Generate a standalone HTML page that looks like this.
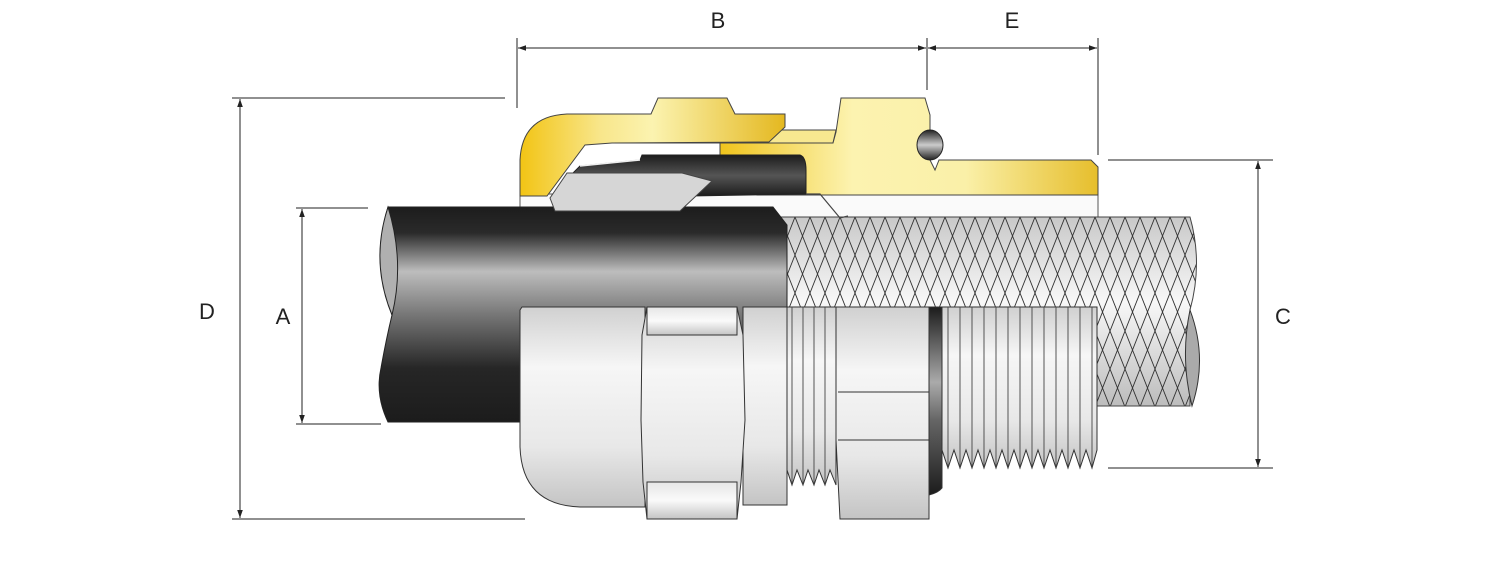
<!DOCTYPE html>
<html><head><meta charset="utf-8"><style>
html,body{margin:0;padding:0;background:#fff;}
svg{display:block;font-family:"Liberation Sans",sans-serif;}
</style></head><body>
<svg width="1500" height="580" viewBox="0 0 1500 580" xmlns="http://www.w3.org/2000/svg">
<defs>
<linearGradient id="cab" x1="0" y1="0" x2="0" y2="1">
<stop offset="0" stop-color="#1c1c1c"/><stop offset="0.12" stop-color="#2a2a2a"/><stop offset="0.3" stop-color="#bdbdbd"/><stop offset="0.5" stop-color="#777"/><stop offset="0.75" stop-color="#262626"/><stop offset="1" stop-color="#1c1c1c"/>
</linearGradient>
<linearGradient id="blk" x1="0" y1="0" x2="0" y2="1">
<stop offset="0" stop-color="#1c1c1c"/><stop offset="0.5" stop-color="#555"/><stop offset="1" stop-color="#1c1c1c"/>
</linearGradient>
<linearGradient id="brass" x1="0" y1="0" x2="1" y2="0">
<stop offset="0" stop-color="#f2c414"/><stop offset="0.3" stop-color="#f8e68a"/><stop offset="0.5" stop-color="#fbf3b0"/><stop offset="1" stop-color="#e4b820"/>
</linearGradient>
<linearGradient id="brass2" x1="0" y1="0" x2="1" y2="0">
<stop offset="0" stop-color="#f0c41c"/><stop offset="0.35" stop-color="#fcf3b0"/><stop offset="0.65" stop-color="#faf0a8"/><stop offset="1" stop-color="#e6be2c"/>
</linearGradient>
<linearGradient id="sil" x1="0" y1="0" x2="0" y2="1">
<stop offset="0" stop-color="#d0d0d0"/><stop offset="0.3" stop-color="#f6f6f6"/><stop offset="0.7" stop-color="#e8e8e8"/><stop offset="1" stop-color="#c4c4c4"/>
</linearGradient>
<linearGradient id="band" x1="0" y1="0" x2="0" y2="1">
<stop offset="0" stop-color="#e6e6e6"/><stop offset="0.5" stop-color="#fafafa"/><stop offset="1" stop-color="#c4c4c4"/>
</linearGradient>
<linearGradient id="braidg" x1="0" y1="0" x2="0" y2="1">
<stop offset="0" stop-color="#c8c8c8"/><stop offset="0.45" stop-color="#f8f8f8"/><stop offset="1" stop-color="#bcbcbc"/>
</linearGradient>
<linearGradient id="ring" x1="0" y1="0" x2="0" y2="1">
<stop offset="0" stop-color="#1c1c1c"/><stop offset="0.4" stop-color="#aaa"/><stop offset="0.6" stop-color="#666"/><stop offset="1" stop-color="#1c1c1c"/>
</linearGradient>
<linearGradient id="ballg" x1="0" y1="0" x2="0" y2="1">
<stop offset="0" stop-color="#222"/><stop offset="0.5" stop-color="#ccc"/><stop offset="1" stop-color="#222"/>
</linearGradient>
<pattern id="mesh" x="780" y="217" width="15" height="38" patternUnits="userSpaceOnUse">
<path d="M0,0 L15,38 M15,0 L0,38 M-7.5,-19 L7.5,19 M7.5,19 L22.5,57 M22.5,-19 L7.5,19 M7.5,19 L-7.5,57" stroke="#333" stroke-width="0.9" fill="none"/>
</pattern>
<marker id="ar" viewBox="0 0 10 10" refX="10" refY="5" markerWidth="8" markerHeight="8" orient="auto-start-reverse" markerUnits="userSpaceOnUse">
<path d="M0,1.5 L10,5 L0,8.5 Z" fill="#222"/>
</marker>
</defs>

<g stroke="#222" stroke-width="1" fill="none">
<line x1="517" y1="38" x2="517" y2="108"/>
<line x1="927" y1="38" x2="927" y2="90"/>
<line x1="1098" y1="38" x2="1098" y2="155"/>
<line x1="518" y1="48" x2="926" y2="48" marker-start="url(#ar)" marker-end="url(#ar)"/>
<line x1="928" y1="48" x2="1097" y2="48" marker-start="url(#ar)" marker-end="url(#ar)"/>
<line x1="232" y1="98" x2="505" y2="98"/>
<line x1="232" y1="519" x2="525" y2="519"/>
<line x1="240" y1="99" x2="240" y2="518" marker-start="url(#ar)" marker-end="url(#ar)"/>
<line x1="296" y1="208" x2="368" y2="208"/>
<line x1="296" y1="424" x2="381" y2="424"/>
<line x1="302" y1="209" x2="302" y2="423" marker-start="url(#ar)" marker-end="url(#ar)"/>
<line x1="1108" y1="160" x2="1273" y2="160"/>
<line x1="1108" y1="468" x2="1273" y2="468"/>
<line x1="1258" y1="161" x2="1258" y2="467" marker-start="url(#ar)" marker-end="url(#ar)"/>
</g>
<g font-size="22" fill="#222" text-anchor="middle">
<text x="718" y="28">B</text>
<text x="1012" y="28">E</text>
<text x="207" y="319">D</text>
<text x="283" y="324">A</text>
<text x="1283" y="324">C</text>
</g>

<rect x="520" y="194" width="578" height="24" fill="#fafafa" stroke="#555" stroke-width="1"/>

<path d="M780,217 L1190,217 Q1203,263 1190,310 L1190,406 L780,406 Z" fill="url(#braidg)"/>
<path d="M780,217 L1190,217 Q1203,263 1190,310 L1190,406 L780,406 Z" fill="url(#mesh)" stroke="#444" stroke-width="1"/>
<path d="M1190,310 Q1180,358 1192,406 Q1208,358 1190,310 Z" fill="#aaa" stroke="#333" stroke-width="1"/>

<path d="M388,207 L773,207 L787,225 L787,422 L388,422 Q375,395 381,368 Q386,340 392,315 Q372,260 388,207 Z" fill="url(#cab)" stroke="#222" stroke-width="1"/>
<path d="M388,207 Q405,262 392,315 Q370,262 388,207 Z" fill="#b0b0b0" stroke="#222" stroke-width="1"/>

<path d="M612,143 L617,130 L836,130 L833,143 Z" fill="#f8e890" stroke="#444" stroke-width="1"/>
<path d="M720,155 L720,143 L833,143 L836,132 L841,98 L925,98 L930,115 L930,160 L935,170 L939,160 L1091,160 L1098,167 L1098,195 L757,195 L757,155 Z" fill="url(#brass2)" stroke="#444" stroke-width="1"/>
<path d="M520,196 L520,160 Q522,116 567,114 L651,114 L658,98 L727,98 L735,114 L785,114 L785,127 L769,142 L612,143 L585,145 L547,196 Z" fill="url(#brass)" stroke="#444" stroke-width="1"/>
<ellipse cx="930" cy="145" rx="13" ry="15" fill="url(#ballg)" stroke="#222" stroke-width="1"/>

<path d="M566,180 L580,166 L640,160 L642,155 L800,155 Q806,157 806,170 L806,194 L690,196 L600,196 Z" fill="url(#blk)" stroke="#222" stroke-width="1"/>
<path d="M580,166 L640,160" stroke="#eee" stroke-width="1.5"/>
<path d="M550,198 L567,173 L682,173 L712,181 L680,211 L555,211 Z" fill="#d6d6d6" stroke="#444" stroke-width="1"/>
<path d="M806,194 L820,194 L840,218 L848,216" fill="none" stroke="#444" stroke-width="1.2"/>

<g stroke="#333" stroke-width="1">
<path d="M522,307 L645,307 L645,507 L580,507 Q522,505 520,447 L520,310 Z" fill="url(#sil)"/>
<path d="M787,307 L836,307 L836,485 L830,470 L825,485 L819,470 L814,485 L808,470 L803,485 L797,470 L792,485 L787,470 Z" fill="url(#sil)"/>
<path d="M942,307 L1097,307 L1097,450 L1092,468 L1086,450 L1080,468 L1074,450 L1068,468 L1062,450 L1056,468 L1050,450 L1044,468 L1038,450 L1032,468 L1026,450 L1020,468 L1014,450 L1008,468 L1002,450 L996,468 L990,450 L984,468 L978,450 L972,468 L966,450 L960,468 L954,450 L948,468 L942,450 Z" fill="url(#sil)"/>
<path d="M743,307 L787,307 L787,505 L743,505 Z" fill="url(#sil)"/>
<path d="M647,307 L737,307 L743,335 L745,420 L741,482 L737,519 L647,519 L643,482 L641,420 L642,335 Z" fill="url(#sil)"/>
<rect x="647" y="307" width="90" height="28" fill="url(#band)"/>
<rect x="647" y="482" width="90" height="37" fill="url(#band)"/>
<path d="M836,307 L929,307 L929,519 L840,519 L836,440 Z" fill="url(#sil)"/>
<line x1="838" y1="392" x2="929" y2="392"/>
<line x1="838" y1="440" x2="929" y2="440"/>
<path d="M929,307 L942,307 L942,488 Q938,493 929,495 Z" fill="url(#ring)"/>
</g>
<g stroke="#444" stroke-width="0.9" fill="none">
<path d="M792,307 L792,485 M803,307 L803,485 M814,307 L814,485 M825,307 L825,485"/>
<path d="M948,307 L948,468 M960,307 L960,468 M972,307 L972,468 M984,307 L984,468 M996,307 L996,468 M1008,307 L1008,468 M1020,307 L1020,468 M1032,307 L1032,468 M1044,307 L1044,468 M1056,307 L1056,468 M1068,307 L1068,468 M1080,307 L1080,468 M1092,307 L1092,468"/>
</g>
</svg>
</body></html>
